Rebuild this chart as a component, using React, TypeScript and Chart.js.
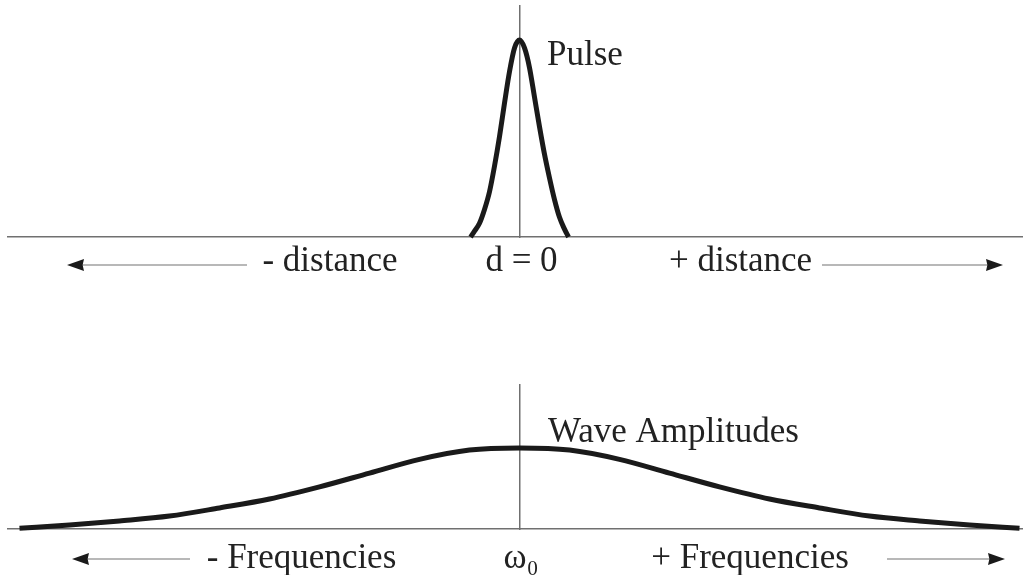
import { useEffect, useRef } from "react";
import { Chart, registerables } from "chart.js";

Chart.register(...registerables);

// x in units of position offset from the centre line; y as fraction of the peak height
const pulseX = [-0.49, -0.45, -0.4, -0.35, -0.3, -0.25, -0.2, -0.15, -0.1, -0.05, 0, 0.05, 0.1, 0.15, 0.2, 0.25, 0.3, 0.35, 0.4, 0.45, 0.49];
const pulseY = [0, 0.03, 0.07, 0.14, 0.23, 0.36, 0.51, 0.68, 0.84, 0.96, 1, 0.96, 0.86, 0.71, 0.56, 0.42, 0.3, 0.19, 0.1, 0.04, 0];

const waveX = [-5, -4.5, -4, -3.5, -3, -2.5, -2, -1.5, -1, -0.5, 0, 0.5, 1, 1.5, 2, 2.5, 3, 3.5, 4, 4.5, 5];
const waveY = [0.01, 0.05, 0.1, 0.16, 0.26, 0.37, 0.52, 0.69, 0.86, 0.975, 1, 0.975, 0.86, 0.69, 0.52, 0.37, 0.26, 0.16, 0.1, 0.05, 0.01];

const distTickValues = [-1.895, 0.02, 2.21];
const distTickLabels = ["- distance", "d = 0", "+ distance"];

const freqTickValues = [-2.18, 0.015, 2.305];
const freqTickLabels = ["- Frequencies", "ω₀", "+ Frequencies"];

const X_MIN = -5.115;
const X_MAX = 5.035;

const SERIF = '"Liberation Serif", "Times New Roman", serif';
const AXIS_COLOR = "#707070";
const CURVE_COLOR = "#1a1a1a";
const TEXT_COLOR = "#222222";

type Arrow = { tail: number; tip: number; dy: number };
type Note = { text: string; x: number; y: number };

function annotatePlugin(arrows: Arrow[], note: Note) {
  return {
    id: "annotate",
    afterDraw(chart: any) {
      const { ctx } = chart;
      const xs = chart.scales.x;
      const ys = chart.scales.y;
      ctx.save();
      for (const a of arrows) {
        const x1 = xs.getPixelForValue(a.tail);
        const x2 = xs.getPixelForValue(a.tip);
        const py = xs.top + a.dy;
        const dir = Math.sign(x2 - x1);
        const headLen = 17;
        const headHalf = 6;
        ctx.strokeStyle = "#a0a0a0";
        ctx.lineWidth = 1.3;
        ctx.beginPath();
        ctx.moveTo(x1, py);
        ctx.lineTo(x2 - dir * headLen * 0.9, py);
        ctx.stroke();
        ctx.fillStyle = "#1a1a1a";
        ctx.beginPath();
        ctx.moveTo(x2, py);
        ctx.lineTo(x2 - dir * headLen, py - headHalf);
        ctx.lineTo(x2 - dir * headLen * 0.92, py);
        ctx.lineTo(x2 - dir * headLen, py + headHalf);
        ctx.closePath();
        ctx.fill();
      }
      ctx.fillStyle = TEXT_COLOR;
      ctx.font = `35px ${SERIF}`;
      ctx.textAlign = "left";
      ctx.textBaseline = "alphabetic";
      ctx.fillText(note.text, xs.getPixelForValue(note.x), ys.getPixelForValue(note.y));
      ctx.restore();
    },
  };
}

function buildConfig(p: {
  xs: number[];
  ys: number[];
  yMax: number;
  tickValues: number[];
  tickLabels: string[];
  padTop: number;
  axisHeight: number;
  tickPad: number;
  arrows: Arrow[];
  note: Note;
}): any {
  return {
    type: "line",
    data: {
      datasets: [
        {
          data: p.xs.map((x, i) => ({ x, y: p.ys[i] })),
          borderColor: CURVE_COLOR,
          borderWidth: 5,
          pointRadius: 0,
          fill: false,
          cubicInterpolationMode: "monotone",
          clip: 3,
        },
      ],
    },
    options: {
      responsive: false,
      animation: false,
      devicePixelRatio: 1,
      layout: { padding: { left: 8, top: p.padTop, right: 0, bottom: 0 } },
      plugins: { legend: { display: false }, tooltip: { enabled: false } },
      scales: {
        x: {
          type: "linear",
          min: X_MIN,
          max: X_MAX,
          afterBuildTicks: (s: any) => {
            s.ticks = p.tickValues.map((v) => ({ value: v }));
          },
          afterFit: (s: any) => {
            s.height = p.axisHeight;
          },
          ticks: {
            autoSkip: false,
            maxRotation: 0,
            minRotation: 0,
            padding: p.tickPad,
            color: TEXT_COLOR,
            font: { family: SERIF, size: 35 },
            callback: (_v: any, i: number) => p.tickLabels[i],
          },
          grid: { display: false, drawTicks: false },
          border: { display: true, color: AXIS_COLOR, width: 1.5 },
        },
        y: {
          type: "linear",
          min: 0,
          max: p.yMax,
          position: { x: 0 },
          ticks: { display: false },
          grid: { display: false, drawTicks: false },
          border: { display: true, color: AXIS_COLOR, width: 1.5 },
        },
      },
    },
    plugins: [annotatePlugin(p.arrows, p.note)],
  };
}

export default function App() {
  const topRef = useRef<HTMLCanvasElement>(null);
  const botRef = useRef<HTMLCanvasElement>(null);

  useEffect(() => {
    const top = new Chart(
      topRef.current!,
      buildConfig({
        xs: pulseX,
        ys: pulseY,
        yMax: 1.173,
        tickValues: distTickValues,
        tickLabels: distTickLabels,
        padTop: 6,
        axisHeight: 63,
        tickPad: 4,
        arrows: [
          { tail: -2.725, tip: -4.525, dy: 28 },
          { tail: 3.025, tip: 4.835, dy: 28 },
        ],
        note: { text: "Pulse", x: 0.275, y: 0.873 },
      })
    );
    const bot = new Chart(
      botRef.current!,
      buildConfig({
        xs: waveX,
        ys: waveY,
        yMax: 1.778,
        tickValues: freqTickValues,
        tickLabels: freqTickLabels,
        padTop: 85,
        axisHeight: 46,
        tickPad: 9,
        arrows: [
          { tail: -3.295, tip: -4.475, dy: 30 },
          { tail: 3.675, tip: 4.855, dy: 30 },
        ],
        note: { text: "Wave Amplitudes", x: 0.285, y: 1.074 },
      })
    );
    return () => {
      top.destroy();
      bot.destroy();
    };
  }, []);

  return (
    <div style={{ position: "absolute", left: 0, top: 0, width: 1023, height: 575, background: "#ffffff" }}>
      <canvas ref={topRef} width={1023} height={300} style={{ position: "absolute", left: 0, top: 0, width: 1023, height: 300 }} />
      <canvas ref={botRef} width={1023} height={275} style={{ position: "absolute", left: 0, top: 300, width: 1023, height: 275 }} />
    </div>
  );
}
